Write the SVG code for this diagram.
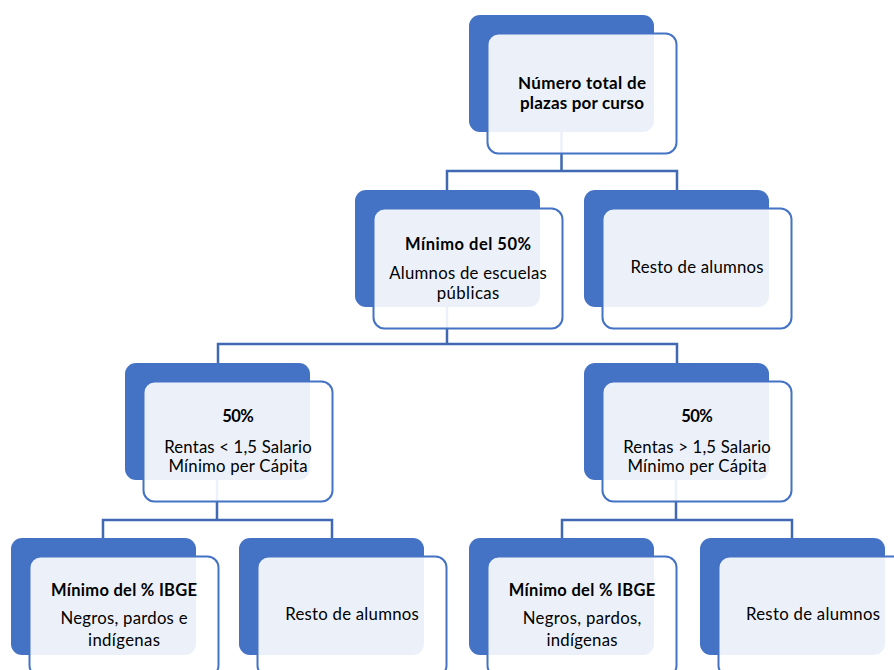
<svg xmlns="http://www.w3.org/2000/svg" width="894" height="670" viewBox="0 0 894 670">
<style>
.back{fill:#4472C4}
.front{fill:#ffffff;fill-opacity:0.9;stroke:#4472C4;stroke-width:2}
.conn{fill:none;stroke:#4068B3;stroke-width:2.5}
text{font-family:Lato,"Liberation Sans",sans-serif;font-size:16.75px;fill:#000;text-anchor:middle}
.b{font-weight:700;font-size:16.5px}
.bt{font-weight:700;font-size:17px}
</style>
<rect width="894" height="670" fill="#ffffff"/>
<g id="connectors">
<path class="conn" d="M447,190 V171 H677 V190 M561.5,132 V171"/>
<path class="conn" d="M218,363 V344 H677 V363 M447,306 V344"/>
<path class="conn" d="M103,538 V520 H332 V538 M217,480 V520"/>
<path class="conn" d="M562,538 V520 H792 V538 M676,480 V520"/>
</g>
<g id="n1">
<rect class="back" x="469" y="15" width="185" height="117" rx="11"/>
<rect class="front" x="487.5" y="33.5" width="189" height="120" rx="11"/>
<text class="bt" x="582" y="89" textLength="128" lengthAdjust="spacing">Número total de</text>
<text class="bt" x="582" y="108.5" textLength="124" lengthAdjust="spacing">plazas por curso</text>
</g>
<g id="n2">
<rect class="back" x="355" y="190" width="185" height="117" rx="11"/>
<rect class="front" x="373.5" y="208.5" width="189" height="120" rx="11"/>
<text class="b" x="468" y="249.5" textLength="126" lengthAdjust="spacing">Mínimo del 50%</text>
<text x="468" y="279" textLength="157.5" lengthAdjust="spacing">Alumnos de escuelas</text>
<text x="468" y="299" textLength="62.7" lengthAdjust="spacing">públicas</text>
</g>
<g id="n3">
<rect class="back" x="584" y="190" width="185" height="117" rx="11"/>
<rect class="front" x="602.5" y="208.5" width="189" height="120" rx="11"/>
<text x="697" y="272.7" textLength="133" lengthAdjust="spacing">Resto de alumnos</text>
</g>
<g id="n4">
<rect class="back" x="125" y="363" width="185" height="117" rx="11"/>
<rect class="front" x="143.5" y="381.5" width="189" height="120" rx="11"/>
<text class="b" x="238" y="422.3" textLength="31.7" lengthAdjust="spacing">50%</text>
<text x="238" y="453" textLength="147.5" lengthAdjust="spacing">Rentas &lt; 1,5 Salario</text>
<text x="238" y="472.3" textLength="139" lengthAdjust="spacing">Mínimo per Cápita</text>
</g>
<g id="n5">
<rect class="back" x="584" y="363" width="185" height="117" rx="11"/>
<rect class="front" x="602.5" y="381.5" width="189" height="120" rx="11"/>
<text class="b" x="697" y="422.3" textLength="31.7" lengthAdjust="spacing">50%</text>
<text x="697" y="453" textLength="147.7" lengthAdjust="spacing">Rentas &gt; 1,5 Salario</text>
<text x="697" y="472.3" textLength="139" lengthAdjust="spacing">Mínimo per Cápita</text>
</g>
<g id="n6">
<rect class="back" x="11" y="538" width="185" height="117" rx="11"/>
<rect class="front" x="29.5" y="556.5" width="189" height="120" rx="11"/>
<text class="b" x="124" y="595.7" textLength="146" lengthAdjust="spacing">Mínimo del % IBGE</text>
<text x="124" y="624" textLength="127" lengthAdjust="spacing">Negros, pardos e</text>
<text x="124" y="645.7" textLength="72" lengthAdjust="spacing">indígenas</text>
</g>
<g id="n7">
<rect class="back" x="239" y="538" width="185" height="117" rx="11"/>
<rect class="front" x="257.5" y="556.5" width="189" height="120" rx="11"/>
<text x="352" y="620" textLength="133.5" lengthAdjust="spacing">Resto de alumnos</text>
</g>
<g id="n8">
<rect class="back" x="469" y="538" width="185" height="117" rx="11"/>
<rect class="front" x="487.5" y="556.5" width="189" height="120" rx="11"/>
<text class="b" x="582" y="595.7" textLength="146.3" lengthAdjust="spacing">Mínimo del % IBGE</text>
<text x="582" y="624" textLength="118.7" lengthAdjust="spacing">Negros, pardos,</text>
<text x="582" y="645.7" textLength="71" lengthAdjust="spacing">indígenas</text>
</g>
<g id="n9">
<rect class="back" x="700" y="538" width="185" height="117" rx="11"/>
<rect class="front" x="718.5" y="556.5" width="189" height="120" rx="11"/>
<text x="813" y="620" textLength="134" lengthAdjust="spacing">Resto de alumnos</text>
</g>
</svg>
